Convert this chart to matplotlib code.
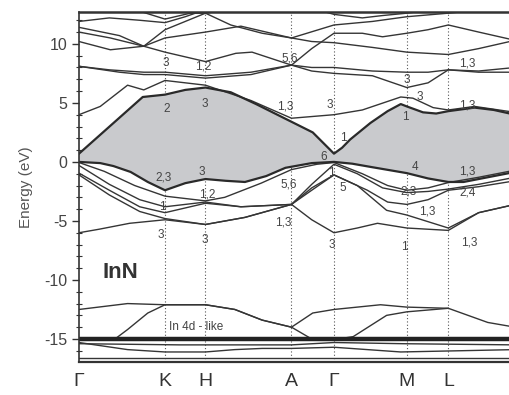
import matplotlib
matplotlib.use("Agg")
import matplotlib.pyplot as plt
import numpy as np
from matplotlib.ticker import MultipleLocator

plt.rcParams['font.family'] = ['Liberation Sans', 'DejaVu Sans']
plt.rcParams['axes.unicode_minus'] = False

# k-path positions of the high-symmetry points
kpath = [0.0, 0.85, 1.25, 2.10, 2.52, 3.24, 3.65]
kpath_labels = ['Γ', 'K', 'H', 'A', 'Γ', 'M', 'L']
k_end = 4.31

# bands as (k, energy in eV)
cb_low = [(0, 0.7), (0.63, 5.5), (0.85, 5.7), (1.05, 6.1), (1.25, 6.3), (1.5, 5.9), (1.75, 4.9),
          (2.10, 3.4), (2.31, 2.5), (2.45, 1.3), (2.52, 0.7), (2.6, 1.2), (2.68, 1.9), (2.88, 3.3),
          (3.05, 4.3), (3.18, 4.9), (3.24, 4.7), (3.4, 4.2), (3.53, 4.1), (3.65, 4.3),
          (3.91, 4.6), (4.1, 4.4), (4.31, 4.0)]
vb_top = [(0, 0.0), (0.21, -0.1), (0.34, -0.35), (0.51, -0.85), (0.68, -1.7), (0.85, -2.4),
          (1.05, -1.8), (1.25, -1.45), (1.45, -1.6), (1.64, -1.7), (1.85, -1.2), (2.04, -0.5),
          (2.3, -0.1), (2.52, 0.0), (2.7, -0.15), (2.9, -0.45), (3.24, -0.95), (3.45, -1.4),
          (3.65, -1.7), (3.8, -1.7), (3.95, -1.45), (4.31, -0.85)]

vb2 = [(0, -0.05), (0.25, -0.8), (0.55, -2.0), (0.85, -2.9), (1.05, -3.1), (1.25, -3.3),
       (1.44, -3.0), (1.8, -1.8), (2.10, -0.65), (2.35, -0.2), (2.52, -0.05), (2.8, -1.0),
       (3.05, -2.0), (3.24, -2.4), (3.45, -2.2), (3.65, -1.75), (3.95, -1.3), (4.31, -0.7)]
vb3 = [(0, -0.3), (0.3, -1.9), (0.6, -3.2), (0.85, -3.8), (1.25, -3.4), (1.6, -3.8),
       (2.10, -3.6), (2.3, -1.9), (2.52, -0.2), (2.75, -1.0), (3.0, -2.2), (3.24, -2.6),
       (3.45, -2.5), (3.65, -2.3), (3.95, -1.9), (4.31, -1.3)]
vb4 = [(0, -0.95), (0.3, -2.4), (0.6, -3.8), (0.85, -4.3), (1.25, -3.5), (1.6, -3.8),
       (2.10, -3.6), (2.3, -2.2), (2.52, -1.1), (2.85, -2.4), (3.05, -3.4), (3.24, -3.6),
       (3.45, -3.2), (3.65, -2.4), (3.95, -2.1), (4.31, -1.6)]
vb5 = [(0, -1.1), (0.3, -2.8), (0.6, -4.2), (0.85, -4.8), (1.25, -5.3), (1.64, -4.7),
       (2.10, -3.6), (2.3, -2.4), (2.52, -1.1), (2.75, -2.0), (3.04, -4.1), (3.24, -4.5),
       (3.65, -5.6), (3.95, -4.3), (4.31, -3.6)]
vb6 = [(0, -6.0), (0.2, -5.7), (0.5, -5.2), (0.85, -4.9), (1.25, -5.3), (1.64, -4.7),
       (2.10, -3.6), (2.3, -4.9), (2.52, -6.0), (2.75, -5.6), (2.95, -5.2), (3.24, -5.6),
       (3.65, -5.8), (3.95, -4.3), (4.31, -3.6)]

cb2 = [(0, 4.0), (0.21, 4.7), (0.48, 6.5), (0.64, 6.1), (0.85, 6.9), (1.25, 6.5),
       (1.7, 5.2), (2.10, 3.7), (2.52, 4.0), (2.8, 4.4), (3.18, 5.5), (3.3, 5.4),
       (3.5, 4.6), (3.65, 4.4), (3.91, 4.7), (4.31, 4.2)]
cb3 = [(0, 8.1), (0.3, 7.8), (0.64, 7.6), (0.85, 7.6), (1.25, 7.3), (1.7, 7.6),
       (2.10, 8.2), (2.3, 7.7), (2.52, 7.5), (2.9, 7.3), (3.24, 6.3), (3.45, 6.7),
       (3.65, 7.8), (3.95, 7.7), (4.31, 8.0)]
cb4 = [(0, 8.1), (0.4, 7.6), (0.64, 7.4), (0.85, 7.4), (1.25, 7.1), (1.7, 7.4),
       (2.10, 8.2), (2.3, 8.0), (2.52, 8.0), (2.9, 7.7), (3.24, 7.6), (3.45, 7.6),
       (3.65, 7.8), (3.95, 7.6), (4.31, 7.6)]
cb5 = [(0, 10.2), (0.31, 9.5), (0.64, 9.8), (0.85, 9.3), (1.25, 8.5), (1.55, 9.2),
       (1.71, 9.3), (2.10, 8.2), (2.3, 9.6), (2.52, 10.9), (2.8, 10.9), (3.0, 10.6),
       (3.24, 10.9), (3.45, 11.2), (3.65, 11.6), (3.95, 11.0), (4.31, 10.3)]
cb6 = [(0, 11.0), (0.31, 10.5), (0.64, 9.8), (0.85, 11.2), (1.25, 12.6), (1.5, 11.6),
       (1.81, 10.9), (2.10, 10.5), (2.3, 10.2), (2.52, 10.1), (2.9, 9.7), (3.24, 9.3),
       (3.65, 9.1), (3.95, 9.6), (4.31, 10.3)]
cb7 = [(0, 11.4), (0.4, 10.7), (0.64, 9.8), (0.85, 10.5), (1.25, 11.0), (1.6, 11.5),
       (2.10, 10.5), (2.52, 11.6), (2.9, 11.9), (3.24, 12.3), (3.65, 12.6), (4.0, 12.9)]
cb8 = [(0, 11.9), (0.3, 12.2), (0.6, 12.0), (0.85, 11.8), (1.05, 12.3), (1.25, 12.9)]
cb9 = [(0.55, 12.9), (0.85, 12.1), (1.1, 12.6), (1.25, 12.6), (1.5, 12.9)]
cb10 = [(2.35, 12.9), (2.52, 12.5), (2.8, 12.2), (3.0, 12.4), (3.24, 12.6), (3.5, 12.9)]

# In 4d-like bands
d1 = [(0, -12.5), (0.48, -12.0), (0.85, -12.1), (1.25, -12.1), (1.54, -12.5), (1.81, -13.4),
      (2.10, -14.0), (2.31, -12.8), (2.52, -12.5), (2.98, -12.1), (3.24, -12.3), (3.65, -12.4),
      (4.04, -13.6), (4.31, -14.0)]
d2 = [(0, -15.0), (0.34, -15.1), (0.48, -14.2), (0.68, -12.8), (0.85, -12.1), (1.25, -12.1),
      (1.54, -12.5), (1.81, -13.4), (2.10, -14.0), (2.3, -15.0), (2.52, -15.05), (2.71, -14.8),
      (3.04, -13.0), (3.24, -12.7), (3.65, -12.4)]
d3 = [(0, -15.3), (0.48, -15.9), (0.85, -16.1), (1.25, -16.1), (1.54, -15.9), (1.81, -15.8),
      (2.10, -15.8), (2.52, -15.7), (3.18, -16.1), (4.31, -15.9)]
d4 = [(0, -15.4), (1.0, -15.5), (2.10, -15.5), (2.52, -15.3), (3.2, -15.4), (4.31, -15.5)]
d_flat = [(0, -15.0), (4.31, -15.0)]
d_bottom = [(0, -16.6), (4.31, -16.6)]

# symmetry labels of the states at the high-symmetry points
sym_labels = [
    ('3', 0.83, 8.4), ('1,2', 1.15, 8.05), ('5,6', 2.0, 8.8), ('3', 3.21, 6.9),
    ('1,3', 3.76, 8.3), ('2', 0.83, 4.5), ('3', 1.21, 4.9), ('1,3', 1.96, 4.7),
    ('3', 2.45, 4.8), ('3', 3.34, 5.5), ('1,3', 3.76, 4.8), ('1', 2.58, 2.0),
    ('6', 2.39, 0.45), ('1', 3.19, 3.8), ('2,3', 0.76, -1.3), ('3', 1.18, -0.85),
    ('4', 3.29, -0.4), ('1,3', 3.76, -0.85), ('1', 2.46, -0.95), ('5,6', 1.99, -1.95),
    ('5', 2.57, -2.2), ('2,3', 3.18, -2.5), ('2,4', 3.76, -2.6), ('1,2', 1.19, -2.8),
    ('1', 0.79, -3.8), ('1,3', 3.36, -4.2), ('1,3', 1.94, -5.1), ('3', 0.78, -6.2),
    ('3', 1.21, -6.6), ('3', 2.47, -7.0), ('1', 3.18, -7.2), ('1,3', 3.78, -6.8),
]

fig = plt.figure(figsize=(5.1, 3.95), dpi=100)
ax = fig.add_axes([79 / 510, 1 - 362 / 395, (510 - 79) / 510 + 0.01, 350 / 395])

# gap between valence and conduction band
cb_k, cb_e = zip(*cb_low)
vb_k, vb_e = zip(*vb_top)
ax.fill(list(cb_k) + list(vb_k[::-1]), list(cb_e) + list(vb_e[::-1]),
        color='#c9cacd', lw=0)

line_col = '#353535'
for band in [vb2, vb3, vb4, vb5, vb6, cb2, cb3, cb4, cb5, cb6, cb7, cb8, cb9, cb10,
             d1, d2, d3, d4, d_bottom]:
    k, e = zip(*band)
    ax.plot(k, e, color=line_col, lw=1.0)
for band in [cb_low, vb_top]:
    k, e = zip(*band)
    ax.plot(k, e, color='#2a2a2a', lw=1.6)
k, e = zip(*d_flat)
ax.plot(k, e, color='#222222', lw=3.2)

for kp in kpath[1:]:
    ax.axvline(kp, color='#555555', lw=0.8, ls=(0, (1, 2)), zorder=0.5)

for txt, kx, ey in sym_labels:
    ax.text(kx, ey, txt, fontsize=8.5, color='#444444', ha='left', va='center')

ax.text(0.23, -9.4, 'InN', fontsize=16, fontweight='bold', color='#333333',
        ha='left', va='center')
ax.text(0.89, -14.0, 'In 4d - like', fontsize=8.5, color='#444444',
        ha='left', va='center')

ax.set_xlim(0, k_end)
ax.set_ylim(-16.95, 12.7)
ax.set_xticks(kpath)
ax.set_xticklabels(kpath_labels, fontsize=14, color='#333333')
ax.tick_params(axis='x', length=0, pad=8)
ax.yaxis.set_major_locator(MultipleLocator(5))
ax.yaxis.set_minor_locator(MultipleLocator(1))
ax.tick_params(axis='y', which='major', direction='out', length=5, width=1,
               labelsize=11.5, labelcolor='#444444', color='#333333')
ax.tick_params(axis='y', which='minor', direction='inout', length=4, width=0.8,
               color='#333333')
ax.set_ylabel('Energy (eV)', fontsize=11, color='#555555', labelpad=8)

ax.spines['right'].set_visible(False)
ax.spines['top'].set_linewidth(1.8)
ax.spines['bottom'].set_linewidth(1.6)
ax.spines['left'].set_linewidth(1.2)
for s in ax.spines.values():
    s.set_color('#333333')

fig.savefig('out.png', dpi=100)
